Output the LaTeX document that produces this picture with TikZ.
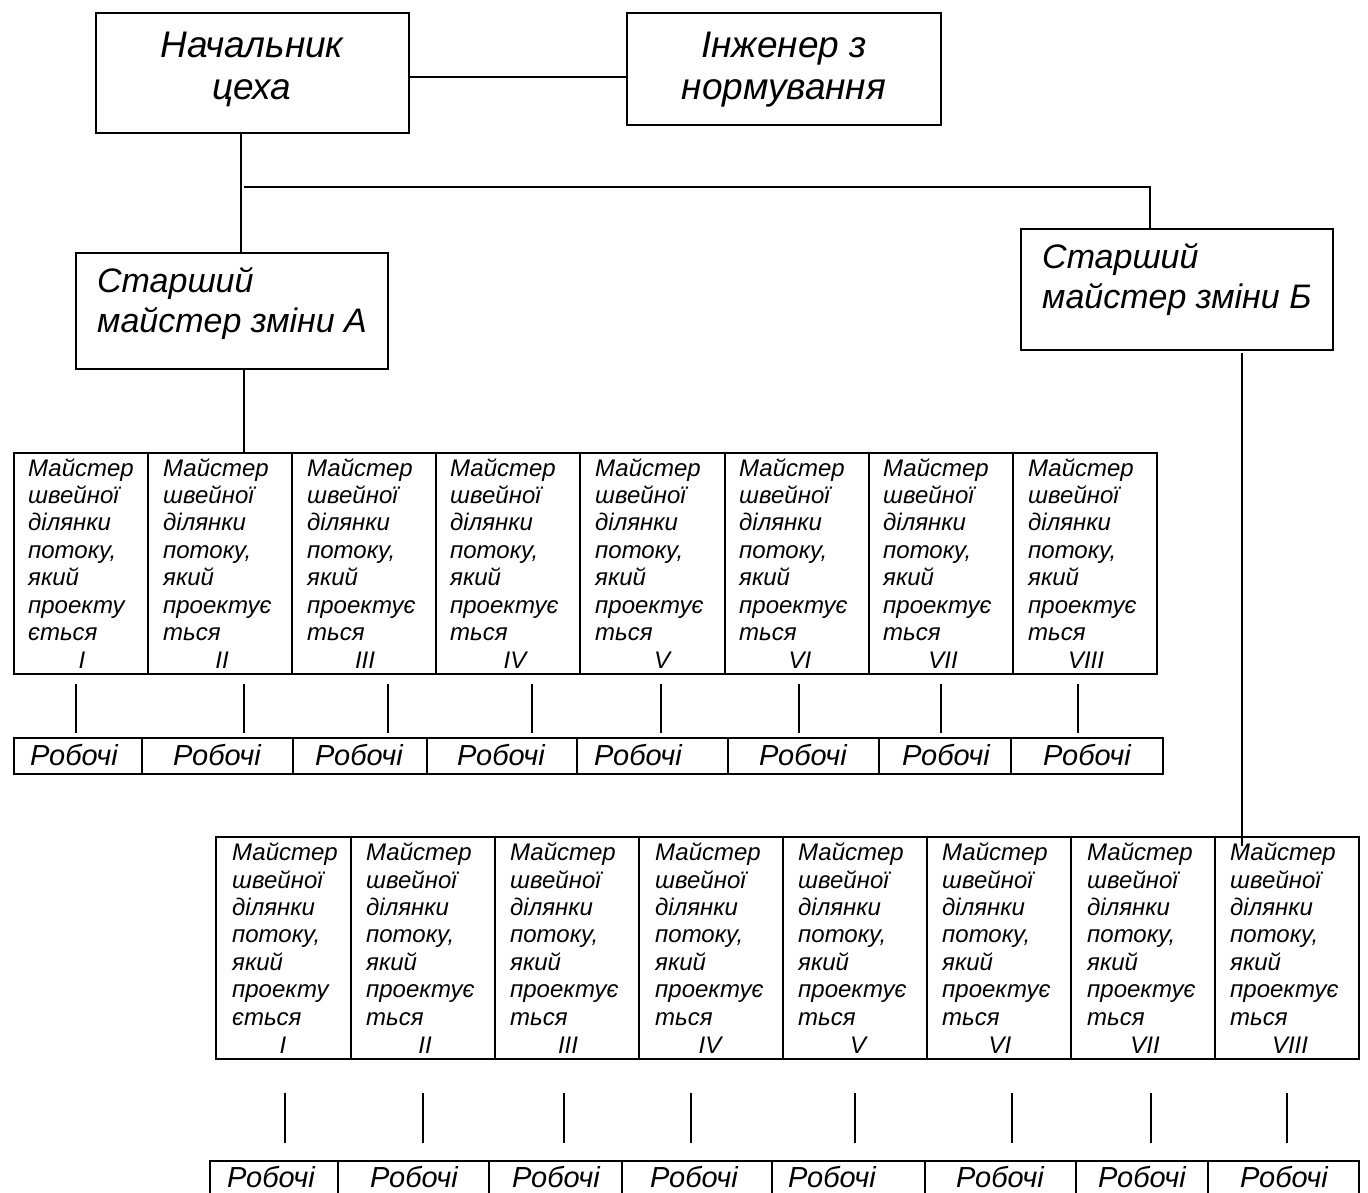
\documentclass[tikz,border=0pt]{standalone}
\usepackage{fontspec}
\setmainfont{Liberation Sans}
\usetikzlibrary{calc}

% Cell texts of the section masters
\def\mastA{Майстер\\швейної\\ділянки\\потоку,\\який\\проекту\\ється}
\def\mastB{Майстер\\швейної\\ділянки\\потоку,\\який\\проектує\\ться}

\tikzset{
  box/.style={draw, line width=1.8pt, inner sep=0pt, outer sep=0pt, anchor=north west},
  conn/.style={line width=1.6pt},
  thinconn/.style={line width=1.3pt},
  bigtxt/.style={font=\itshape\fontsize{37}{42}\selectfont, inner sep=0pt, align=center},
  midtxt/.style={font=\itshape\fontsize{34}{40}\selectfont, inner sep=0pt, align=left},
  smalltxt/.style={font=\itshape\fontsize{24}{27.4}\selectfont, inner sep=0pt, align=left},
  worktxt/.style={font=\itshape\fontsize{29}{32}\selectfont, inner sep=0pt},
}

\begin{document}
\begin{tikzpicture}[x=1pt,y=-1pt]
\useasboundingbox (0,0) rectangle (1368,1193);
\clip (0,0) rectangle (1368,1193);

% ---- management level (multi-line texts are anchored at their last baseline) ----
\node[box, minimum width=313, minimum height=120] (chief) at (96,13) {};
\node[bigtxt, anchor=base] (chiefT) at (252,100) {Начальник\\цеха};

\node[box, minimum width=314, minimum height=112] (eng) at (627,13) {};
\node[bigtxt, anchor=base] (engT) at (784,100) {Інженер з\\нормування};

\node[box, minimum width=312, minimum height=116] (shiftA) at (76,253) {};
\node[midtxt, anchor=base west] (shiftAT) at (97,332) {Старший\\майстер зміни А};

\node[box, minimum width=312, minimum height=121] (shiftB) at (1021,229) {};
\node[midtxt, anchor=base west] (shiftBT) at (1042,308) {Старший\\майстер зміни Б};

% ---- links between management boxes ----
\draw[conn] ([yshift=-4pt]chief.east) -- ([yshift=-4pt]chief.east -| eng.west);
\coordinate (cx) at (241,0);
\draw[conn] (chief.south -| cx) -- (shiftA.north -| cx);
\coordinate (hb1) at (244,187);
\coordinate (hb2) at (1150,187);
\draw[conn] (hb1) -- (hb2) -- (hb2 |- shiftB.north);

% ---- shift A: section masters ----
\foreach \n/\l/\r/\tx/\nx/\rn/\body in {
  1/14/148/28/82/I/\mastA,
  2/148/292/163/222/II/\mastB,
  3/292/436/307/365/III/\mastB,
  4/436/580/450/515/IV/\mastB,
  5/580/725/595/662/V/\mastB,
  6/725/869/739/800/VI/\mastB,
  7/869/1013/883/943/VII/\mastB,
  8/1013/1157/1028/1086/VIII/\mastB}{
  \node[box, minimum width={\r-\l}, minimum height=221] (um\n) at (\l,453) {};
  \node[smalltxt, anchor=base west] (umt\n) at (\tx,640.4) {\body};
  \node[smalltxt, anchor=base] (umn\n) at (\nx,668) {\rn};
}
\coordinate (ax) at (244,0);
\draw[conn] (shiftA.south -| ax) -- (um2.north -| ax);

% ---- shift A: workers ----
\foreach \n/\l/\r/\c in {1/14/142/74, 2/142/293/217, 3/293/427/359, 4/427/577/501,
  5/577/728/638, 6/728/879/803, 7/879/1011/946, 8/1011/1163/1087}{
  \node[box, minimum width={\r-\l}, minimum height=36] (uw\n) at (\l,738) {};
  \node[worktxt, anchor=base] (uwt\n) at (\c,765) {Робочі};
}
\foreach \n/\x in {1/76, 2/244, 3/388, 4/532, 5/661, 6/799, 7/941, 8/1078}{
  \coordinate (uca\n) at (\x,684);
  \coordinate (ucb\n) at (\x,733);
  \draw[thinconn] (uca\n) -- (ucb\n);
}

% ---- shift B: section masters ----
\foreach \n/\l/\r/\tx/\nx/\rn/\body in {
  1/216/351/232/283/I/\mastA,
  2/351/495/366/425/II/\mastB,
  3/495/639/510/568/III/\mastB,
  4/639/783/655/710/IV/\mastB,
  5/783/927/798/858/V/\mastB,
  6/927/1071/942/1000/VI/\mastB,
  7/1071/1215/1087/1145/VII/\mastB,
  8/1215/1359/1230/1290/VIII/\mastB}{
  \node[box, minimum width={\r-\l}, minimum height=222] (lm\n) at (\l,837) {};
  \node[smalltxt, anchor=base west] (lmt\n) at (\tx,1025) {\body};
  \node[smalltxt, anchor=base] (lmn\n) at (\nx,1053) {\rn};
}
\coordinate (bx1) at (1242,353);
\coordinate (bx2) at (1242,846);
\draw[conn] (bx1) -- (bx2);

% ---- shift B: workers ----
\foreach \n/\l/\r/\c in {1/210/338/271, 2/338/489/414, 3/489/622/556, 4/622/772/694,
  5/772/925/832, 6/925/1076/1000, 7/1076/1208/1142, 8/1208/1359/1284}{
  \node[box, minimum width={\r-\l}, minimum height=40] (lw\n) at (\l,1161) {};
  \node[worktxt, anchor=base] (lwt\n) at (\c,1187) {Робочі};
}
\foreach \n/\x in {1/285, 2/423, 3/564, 4/691, 5/855, 6/1012, 7/1151, 8/1287}{
  \coordinate (lca\n) at (\x,1093);
  \coordinate (lcb\n) at (\x,1143);
  \draw[thinconn] (lca\n) -- (lcb\n);
}
\end{tikzpicture}
\end{document}
